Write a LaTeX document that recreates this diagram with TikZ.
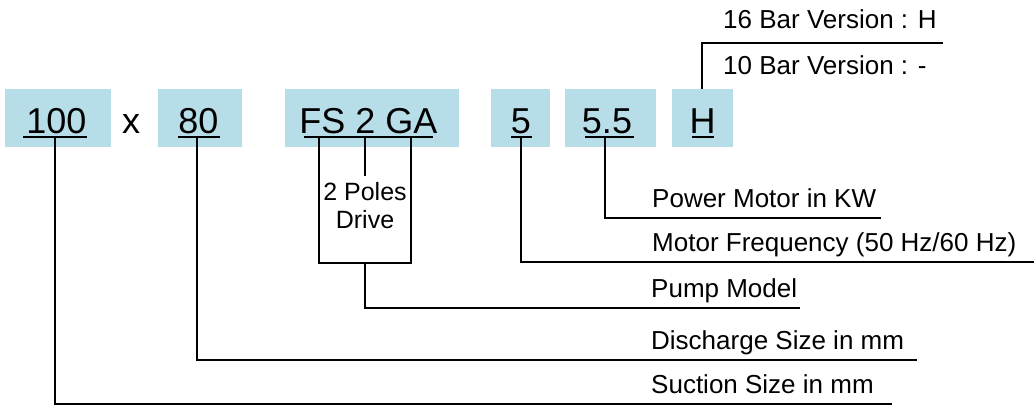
\documentclass[tikz,border=0pt]{standalone}
\usepackage{fontspec}
\setmainfont{Liberation Sans}
\definecolor{boxblue}{HTML}{B7DEE8}
\begin{document}
\begin{tikzpicture}[x=1pt,y=-1pt,
  codebox/.style={fill=boxblue, draw=none, minimum height=58pt, inner sep=0pt},
  code/.style={font=\fontsize{36}{40}\selectfont, inner sep=0pt, anchor=base},
  lbl/.style={font=\fontsize{26}{30}\selectfont, inner sep=0pt, anchor=base west},
  note/.style={font=\fontsize{25}{28}\selectfont, inner sep=0pt, anchor=base},
  conn/.style={line width=1.6pt}]
\useasboundingbox (0,0) rectangle (1034,412);

% code boxes
\node[codebox, minimum width=106pt] (b100) at (58,118) {};
\node[codebox, minimum width=84pt]  (b80)  at (200,118) {};
\node[codebox, minimum width=174pt] (bFS)  at (372,118) {};
\node[codebox, minimum width=59pt]  (b5)   at (520.5,118) {};
\node[codebox, minimum width=91pt]  (b55)  at (610.5,118) {};
\node[codebox, minimum width=61pt]  (bH)   at (702.5,118) {};

% code texts
\node[code] (t100) at (56.5,133) {100};
\node[code] (tx)   at (131,133) {x};
\node[code] (t80)  at (198.5,133) {80};
\node[code] (tFS)  at (368.5,133) {FS 2 GA};
\node[code] (t5)   at (521,133) {5};
\node[code] (t55)  at (607,133) {5.5};
\node[code] (tH)   at (702.5,133) {H};

% underlines
\coordinate (u100l) at (23,137);  \coordinate (u100r) at (87,137);
\coordinate (u80l)  at (178,137); \coordinate (u80r)  at (220,137);
\coordinate (uFSl)  at (304,137); \coordinate (uFSr)  at (433,137);
\coordinate (u5l)   at (511,137); \coordinate (u5r)   at (532,137);
\coordinate (u55l)  at (585,137); \coordinate (u55r)  at (634,137);
\coordinate (uHl)   at (692,137); \coordinate (uHr)   at (714,137);
\foreach \n in {100,80,FS,5,55,H} \draw[conn] (u\n l) -- (u\n r);

% labels
\node[lbl] (l16)   at (723,29)  {16 Bar Version : H};
\node[lbl] (l10)   at (723,75)  {10 Bar Version : -};
\node[lbl] (lpow)  at (652,207) {Power Motor in KW};
\node[lbl] (lfreq) at (652,251) {Motor Frequency (50 Hz/60 Hz)};
\node[lbl] (lpump) at (651,297) {Pump Model};
\node[lbl] (ldis)  at (651,349) {Discharge Size in mm};
\node[lbl] (lsuc)  at (651,393) {Suction Size in mm};
\node[note] (n2p)  at (365,200) {2 Poles};
\node[note] (ndr)  at (365,228) {Drive};

% connector coordinates
\coordinate (c100) at (55,137);   \coordinate (e100) at (892,404);
\coordinate (c80)  at (197,137);  \coordinate (e80)  at (917,360);
\coordinate (cFSa) at (319,137);  \coordinate (cFSb) at (411,137);
\coordinate (cFSm) at (365,137);  \coordinate (cFSn) at (365,176);
\coordinate (bFSl) at (319,263);  \coordinate (bFSr) at (411,263);
\coordinate (bFSm) at (365,263);  \coordinate (ePump) at (800,308);
\coordinate (c5)   at (521,137);  \coordinate (e5)   at (1034,262);
\coordinate (c55)  at (605,137);  \coordinate (e55)  at (881,218);
\coordinate (cH)   at (702,89);   \coordinate (eH)   at (943,43);

% connectors
\draw[conn] (c100) |- (e100);
\draw[conn] (c80) |- (e80);
\draw[conn] (cFSa) -- (bFSl) -- (bFSr) -- (cFSb);
\draw[conn] (cFSm) -- (cFSn);
\draw[conn] (bFSm) |- (ePump);
\draw[conn] (c5) |- (e5);
\draw[conn] (c55) |- (e55);
\draw[conn] (cH) |- (eH);
\end{tikzpicture}
\end{document}
